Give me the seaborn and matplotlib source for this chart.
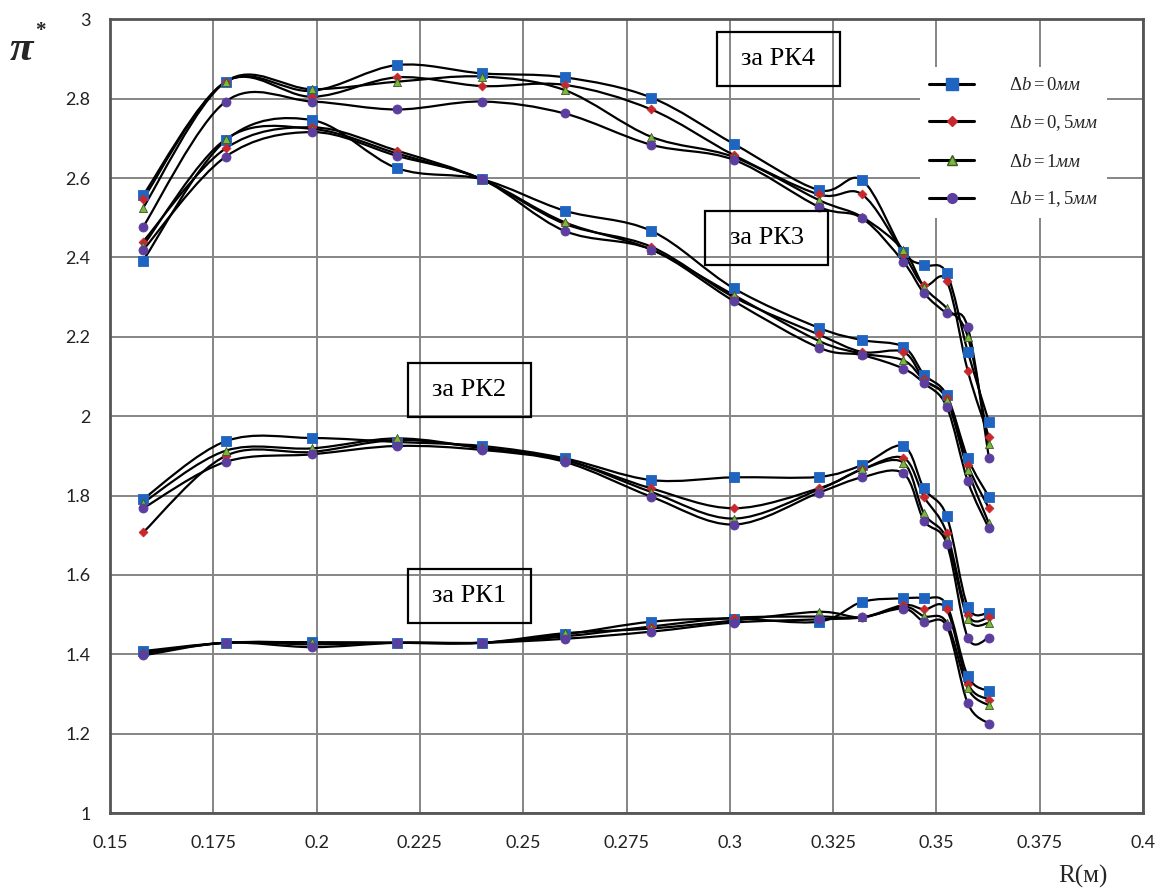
import numpy as np
import pandas as pd
import matplotlib
matplotlib.use("Agg")
import matplotlib.pyplot as plt
from matplotlib.path import Path
from matplotlib.patches import PathPatch, Rectangle
from matplotlib.lines import Line2D
import seaborn as sns

# Radial positions of the probe, m
R = [0.158, 0.178, 0.199, 0.2195, 0.240, 0.260, 0.281, 0.301,
     0.3215, 0.332, 0.342, 0.347, 0.3525, 0.3576, 0.3627]

# Total pressure ratio behind each rotor, for four tip clearances
rk4_db0 = [2.557, 2.843, 2.820, 2.885, 2.864, 2.854, 2.803, 2.686, 2.570, 2.595, 2.415, 2.381, 2.360, 2.162, 1.986]
rk4_db05 = [2.547, 2.843, 2.805, 2.854, 2.832, 2.835, 2.773, 2.658, 2.559, 2.559, 2.410, 2.330, 2.341, 2.114, 1.948]
rk4_db1 = [2.525, 2.843, 2.824, 2.843, 2.856, 2.822, 2.704, 2.653, 2.545, 2.502, 2.419, 2.326, 2.272, 2.200, 1.931]
rk4_db15 = [2.477, 2.793, 2.793, 2.773, 2.793, 2.763, 2.684, 2.646, 2.528, 2.499, 2.389, 2.310, 2.259, 2.224, 1.895]

rk3_db0 = [2.392, 2.695, 2.746, 2.625, 2.597, 2.518, 2.467, 2.322, 2.223, 2.192, 2.175, 2.105, 2.053, 1.894, 1.797]
rk3_db05 = [2.440, 2.675, 2.728, 2.669, 2.597, 2.485, 2.427, 2.300, 2.206, 2.162, 2.162, 2.093, 2.045, 1.877, 1.768]
rk3_db1 = [2.430, 2.698, 2.724, 2.662, 2.597, 2.489, 2.420, 2.305, 2.190, 2.158, 2.141, 2.090, 2.042, 1.864, 1.730]
rk3_db15 = [2.419, 2.654, 2.716, 2.656, 2.597, 2.467, 2.420, 2.290, 2.173, 2.154, 2.120, 2.083, 2.024, 1.836, 1.717]

rk2_db0 = [1.791, 1.937, 1.945, 1.935, 1.925, 1.894, 1.839, 1.846, 1.847, 1.877, 1.925, 1.818, 1.748, 1.520, 1.505]
rk2_db05 = [1.707, 1.900, 1.910, 1.940, 1.920, 1.890, 1.818, 1.768, 1.818, 1.866, 1.895, 1.797, 1.706, 1.500, 1.493]
rk2_db1 = [1.782, 1.913, 1.919, 1.944, 1.920, 1.890, 1.809, 1.742, 1.815, 1.866, 1.883, 1.755, 1.690, 1.490, 1.479]
rk2_db15 = [1.768, 1.885, 1.904, 1.925, 1.915, 1.885, 1.797, 1.727, 1.807, 1.846, 1.856, 1.737, 1.679, 1.442, 1.442]

rk1_db0 = [1.408, 1.429, 1.430, 1.429, 1.429, 1.450, 1.482, 1.490, 1.482, 1.532, 1.541, 1.541, 1.524, 1.345, 1.307]
rk1_db05 = [1.403, 1.429, 1.425, 1.429, 1.429, 1.445, 1.470, 1.492, 1.495, 1.493, 1.524, 1.513, 1.513, 1.326, 1.286]
rk1_db1 = [1.403, 1.429, 1.430, 1.429, 1.429, 1.453, 1.465, 1.485, 1.507, 1.493, 1.520, 1.496, 1.480, 1.314, 1.271]
rk1_db15 = [1.397, 1.429, 1.418, 1.429, 1.429, 1.439, 1.457, 1.480, 1.488, 1.493, 1.515, 1.482, 1.471, 1.276, 1.225]

stage_labels = ["за РК1", "за РК2", "за РК3", "за РК4"]
stage_label_pos = [(0.2369, 1.548), (0.2369, 2.065), (0.309, 2.450), (0.3117, 2.900)]
clearance_keys = ["0", "0.5", "1", "1.5"]
legend_labels = [r"$\Delta b = 0\mathit{мм}$", r"$\Delta b = 0,5\mathit{мм}$",
                 r"$\Delta b = 1\mathit{мм}$", r"$\Delta b = 1,5\mathit{мм}$"]
x_ticks = [0.15, 0.175, 0.2, 0.225, 0.25, 0.275, 0.3, 0.325, 0.35, 0.375, 0.4]
x_ticklabels = ["0.15", "0.175", "0.2", "0.225", "0.25", "0.275", "0.3", "0.325", "0.35", "0.375", "0.4"]
y_ticks = [1, 1.2, 1.4, 1.6, 1.8, 2, 2.2, 2.4, 2.6, 2.8, 3]
y_ticklabels = ["1", "1.2", "1.4", "1.6", "1.8", "2", "2.2", "2.4", "2.6", "2.8", "3"]

series = {
    "РК1": [rk1_db0, rk1_db05, rk1_db1, rk1_db15],
    "РК2": [rk2_db0, rk2_db05, rk2_db1, rk2_db15],
    "РК3": [rk3_db0, rk3_db05, rk3_db1, rk3_db15],
    "РК4": [rk4_db0, rk4_db05, rk4_db1, rk4_db15],
}

rows = []
for stage, curves in series.items():
    for key, vals in zip(clearance_keys, curves):
        for r, v in zip(R, vals):
            rows.append({"stage": stage, "db": key, "R": r, "pi": v})
df = pd.DataFrame(rows)

sns.set_style("white")
plt.rcParams["font.family"] = ["Lato", "DejaVu Sans"]
plt.rcParams["mathtext.fontset"] = "custom"
plt.rcParams["mathtext.rm"] = "Liberation Serif"
plt.rcParams["mathtext.it"] = "Liberation Serif:italic"
plt.rcParams["mathtext.bf"] = "Liberation Serif:bold"

W, H = 1163, 894
fig = plt.figure(figsize=(W / 100, H / 100), dpi=100)
ax = fig.add_axes([110 / W, 1 - 813 / H, (1143 - 110) / W, (813 - 19.4) / H])

ax.set_xlim(0.15, 0.4)
ax.set_ylim(1, 3)
ax.set_xticks(x_ticks)
ax.set_xticklabels(x_ticklabels)
ax.set_yticks(y_ticks)
ax.set_yticklabels(y_ticklabels)
ax.tick_params(axis="both", length=0, labelsize=13, colors="#222222")
ax.tick_params(axis="x", pad=16)
ax.tick_params(axis="y", pad=14)
ax.grid(True, color="#858585", linewidth=1.4)
ax.set_axisbelow(True)
for sp in ax.spines.values():
    sp.set_color("#555555")
    sp.set_linewidth(2.0)


def smooth_path(xs, ys):
    """Cubic Bezier path through the points (Catmull-Rom style tangents)."""
    pts = np.column_stack([xs, ys]).astype(float)
    n = len(pts)
    verts = [pts[0]]
    codes = [Path.MOVETO]
    for i in range(n - 1):
        p0 = pts[i - 1] if i > 0 else pts[i]
        p1 = pts[i]
        p2 = pts[i + 1]
        p3 = pts[i + 2] if i + 2 < n else pts[i + 1]
        c1 = p1 + (p2 - p0) / 6.0
        c2 = p2 - (p3 - p1) / 6.0
        verts += [c1, c2, p2]
        codes += [Path.CURVE4] * 3
    return Path(verts, codes)


for (stage, key), g in df.groupby(["stage", "db"]):
    ax.add_patch(PathPatch(smooth_path(g["R"], g["pi"]), facecolor="none",
                           edgecolor="black", linewidth=1.6, zorder=2))

styles = {
    "0": dict(marker="s", color="#1E64C0", s=50, edge="#1E64C0"),
    "0.5": dict(marker="D", color="#C8282D", s=20, edge="#C8282D"),
    "1": dict(marker="^", color="#7DB83E", s=34, edge="#3A5A20"),
    "1.5": dict(marker="o", color="#5B3E9E", s=42, edge="#5B3E9E"),
}
# draw the largest markers first so smaller ones stay visible
for key in clearance_keys:
    st = styles[key]
    sns.scatterplot(data=df[df["db"] == key], x="R", y="pi", ax=ax,
                    marker=st["marker"], color=st["color"], s=st["s"],
                    edgecolor=st["edge"], linewidth=0.6, zorder=3, legend=False)
ax.set_xlabel("")
ax.set_ylabel("")

# stage labels in open boxes
box_w = 123 / 4132.0   # box width in data units of R
box_h = 54 / 396.7     # box height in data units of pi
for text, (xp, yp) in zip(stage_labels, stage_label_pos):
    ax.add_patch(Rectangle((xp - box_w / 2, yp - box_h / 2), box_w, box_h,
                           facecolor="none", edgecolor="black", linewidth=1.6,
                           zorder=4))
    ax.text(xp, yp, text, ha="center", va="center", fontsize=19,
            family="Liberation Serif", color="black", zorder=4)

# legend
handles = []
for key in clearance_keys:
    st = styles[key]
    ms = {"0": 8.5, "0.5": 5, "1": 6.5, "1.5": 7}[key]
    handles.append(Line2D([], [], color="black", linewidth=2.2, marker=st["marker"],
                          markersize=ms, markerfacecolor=st["color"],
                          markeredgecolor=st["edge"]))
leg = ax.legend(handles, legend_labels, loc="upper left",
                bbox_to_anchor=((920 - 110) / 1033, (813 - 67) / 793.6),
                borderaxespad=0, frameon=True, fontsize=13.5, handlelength=2.4,
                handletextpad=1.85, labelspacing=1.05, borderpad=0.5)
leg.get_frame().set_facecolor("white")
leg.get_frame().set_edgecolor("none")
leg.get_frame().set_alpha(1)
leg.set_zorder(5)

# axis titles
fig.text(21 / W, 1 - 50 / H, "π", fontsize=31, family="Liberation Serif",
         weight="bold", style="italic", ha="center", va="center")
fig.text(40 / W, 1 - 31 / H, "*", fontsize=15, family="Liberation Serif",
         weight="bold", ha="center", va="center")
fig.text(1083 / W, 1 - 876 / H, "R(м)", fontsize=18, family="Liberation Serif",
         ha="center", va="center")

fig.savefig("out.png", dpi=100, facecolor="white")
